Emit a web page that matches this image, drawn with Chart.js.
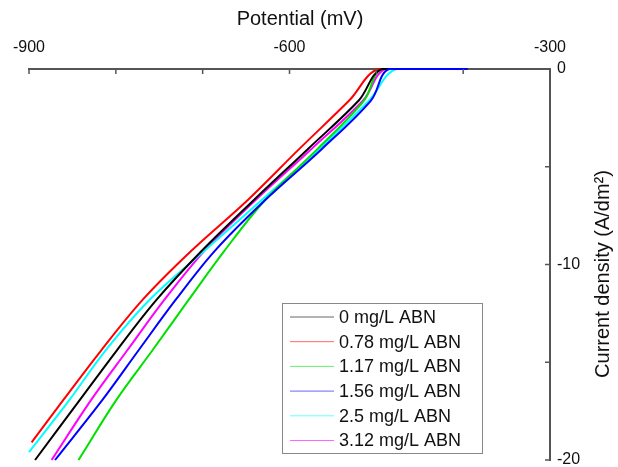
<!DOCTYPE html>
<html>
<head>
<meta charset="utf-8">
<script src="https://cdn.jsdelivr.net/npm/chart.js@4.4.0/dist/chart.umd.min.js"></script>
<style>
  html, body { margin: 0; padding: 0; background: #fff; }
</style>
</head>
<body>
<canvas id="chart" width="618" height="467"></canvas>
<script>
// Legend labels and line colours
const seriesLabels = ['0 mg/L ABN', '0.78 mg/L ABN', '1.17 mg/L ABN', '1.56 mg/L ABN', '2.5 mg/L ABN', '3.12 mg/L ABN'];
const seriesColors = ['#000000', '#ff0000', '#00e000', '#0000ff', '#00ffff', '#ff00ff'];

// Potential (mV) and current density (A/dm2)
const pot0 = [-893, -841, -799, -753, -701, -641, -579, -520, -493, -395];
const cur0 = [-20, -16.9, -14.4, -11.8, -9.3, -6.7, -4.1, -1.6, 0, 0];
const pot078 = [-897, -860, -817, -769, -713, -648, -589, -531, -497, -395];
const cur078 = [-19.1, -16.9, -14.4, -11.8, -9.3, -6.7, -4.1, -1.6, 0, 0];
const pot117 = [-843, -799, -758, -716, -675, -628, -568, -514, -493, -395];
const cur117 = [-20, -16.9, -14.4, -11.8, -9.3, -6.7, -4.1, -1.6, 0, 0];
const pot156 = [-870, -815, -774, -731, -686, -628, -563, -506, -485, -395];
const cur156 = [-20, -16.9, -14.4, -11.8, -9.3, -6.7, -4.1, -1.6, 0, 0];
const pot25 = [-900, -853, -812, -761, -698, -632, -566, -508, -477, -395];
const cur25 = [-19.6, -16.9, -14.4, -11.8, -9.3, -6.7, -4.1, -1.6, 0, 0];
const pot312 = [-874, -828, -787, -744, -698, -639, -575, -515, -489, -395];
const cur312 = [-20, -16.9, -14.4, -11.8, -9.3, -6.7, -4.1, -1.6, 0, 0];

// Labelled ticks
const xTickLabels = [-900, -600, -300];
const yTickLabels = [0, -10, -20];

const allPot = [pot0, pot078, pot117, pot156, pot25, pot312];
const allCur = [cur0, cur078, cur117, cur156, cur25, cur312];
const drawOrder = [1, 1, 1, 0, 1, 1];

const FONT = 'Arial, "Liberation Sans", sans-serif';

const datasets = seriesLabels.map((label, i) => ({
  label,
  data: allPot[i].map((p, j) => ({ x: p, y: allCur[i][j] })),
  borderColor: seriesColors[i],
  borderWidth: 2,
  borderJoinStyle: 'round',
  pointRadius: 0,
  fill: false,
  tension: 0.35,
  capBezierPoints: true,
  order: drawOrder[i],
  clip: false
}));

// inward ticks, titles and legend box
const extras = {
  id: 'extras',
  afterDraw(chart) {
    const ctx = chart.ctx;
    const xs = chart.scales.x;
    const ys = chart.scales.y;
    ctx.save();
    ctx.strokeStyle = '#555';
    ctx.lineWidth = 1.5;
    xs.ticks.forEach(t => {
      const px = xs.getPixelForValue(t.value);
      ctx.beginPath();
      ctx.moveTo(px, xs.bottom);
      ctx.lineTo(px, xs.bottom + 5);
      ctx.stroke();
    });
    ys.ticks.forEach(t => {
      const py = ys.getPixelForValue(t.value);
      ctx.beginPath();
      ctx.moveTo(ys.left, py);
      ctx.lineTo(ys.left - 5, py);
      ctx.stroke();
    });

    // axis titles
    ctx.fillStyle = '#111';
    ctx.font = '20px ' + FONT;
    ctx.textAlign = 'center';
    ctx.textBaseline = 'middle';
    ctx.fillText('Potential (mV)', 300, 19);
    ctx.translate(603, 274);
    ctx.rotate(-Math.PI / 2);
    ctx.fillText('Current density (A/dm²)', 0, 0);
    ctx.setTransform(1, 0, 0, 1, 0, 0);

    // legend
    ctx.fillStyle = '#fff';
    ctx.fillRect(282, 303, 200, 150);
    ctx.strokeStyle = '#888';
    ctx.lineWidth = 1;
    ctx.strokeRect(282.5, 303.5, 200, 150);
    ctx.font = '18px ' + FONT;
    ctx.textAlign = 'left';
    chart.data.datasets.forEach((ds, i) => {
      const y = 317 + i * 24.7;
      ctx.strokeStyle = ds.borderColor;
      ctx.globalAlpha = 0.6;
      ctx.beginPath();
      ctx.moveTo(290, y);
      ctx.lineTo(334, y);
      ctx.stroke();
      ctx.globalAlpha = 1;
      ctx.fillStyle = '#111';
      ctx.fillText(ds.label, 339, y + 1);
    });
    ctx.restore();
  }
};

new Chart(document.getElementById('chart'), {
  type: 'line',
  data: { datasets },
  options: {
    responsive: false,
    devicePixelRatio: 1,
    animation: false,
    layout: { padding: { left: 29, top: 0, right: 0, bottom: 7 } },
    plugins: {
      legend: { display: false },
      tooltip: { enabled: false }
    },
    scales: {
      x: {
        type: 'linear',
        position: 'top',
        min: -900,
        max: -300,
        grid: { display: false, drawTicks: false },
        border: { display: true, color: '#555', width: 2 },
        ticks: {
          stepSize: 100,
          autoSkip: false,
          maxRotation: 0,
          padding: 12,
          color: '#111',
          font: { size: 16, family: FONT },
          callback: v => xTickLabels.includes(v) ? String(v) : ''
        },
        afterFit: s => { s.height = 69; s.paddingLeft = 0; s.paddingRight = 0; }
      },
      y: {
        type: 'linear',
        position: 'right',
        min: -20,
        max: 0,
        grid: { display: false, drawTicks: false },
        border: { display: true, color: '#555', width: 2 },
        ticks: {
          stepSize: 5,
          autoSkip: false,
          padding: 7,
          color: '#111',
          font: { size: 16, family: FONT },
          callback: v => yTickLabels.includes(v) ? String(v) : ''
        },
        afterFit: s => { s.width = 68; s.paddingTop = 0; s.paddingBottom = 0; }
      }
    }
  },
  plugins: [extras]
});
</script>
</body>
</html>
